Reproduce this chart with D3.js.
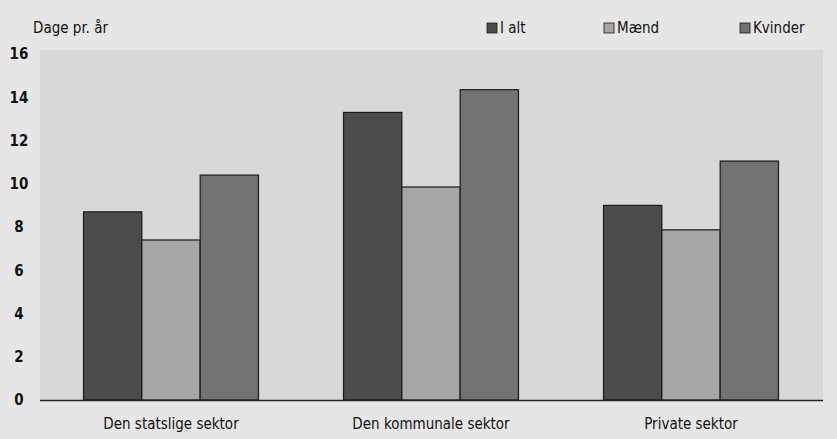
<!DOCTYPE html>
<html><head><meta charset="utf-8">
<script src="https://cdn.jsdelivr.net/npm/d3@7"></script>
<style>body{margin:0;background:#e4e4e4;}svg{display:block;}</style>
</head><body>
<svg id="c" width="837" height="439"></svg>
<script>
const categories = ["Den statslige sektor", "Den kommunale sektor", "Private sektor"];
const seriesNames = ["I alt", "Mænd", "Kvinder"];
const iAlt = [8.7, 13.3, 9.0];
const maend = [7.4, 9.85, 7.87];
const kvinder = [10.4, 14.35, 11.05];
const yTicks = [0, 2, 4, 6, 8, 10, 12, 14, 16];
const yLabel = "Dage pr. år";
const colors = ["#4c4c4c", "#a6a6a6", "#727272"];
const font = "'Liberation Sans Narrow','DejaVu Sans Condensed',sans-serif";

const svg = d3.select("#c");
svg.append("rect").attr("width",837).attr("height",439).attr("fill","#e6e6e6");
const y = d3.scaleLinear().domain([0,16]).range([400,54]);
const x0 = d3.scaleBand().domain(categories).range([41,821]).paddingInner(0.327).paddingOuter(0.1635);
const x1 = d3.scaleBand().domain(seriesNames).range([0,x0.bandwidth()]);

svg.append("rect").attr("x",40).attr("y",50).attr("width",783).attr("height",350).attr("fill","#d8d8d8");

const yAxis = d3.axisLeft(y).tickValues(yTicks).tickSize(0).tickPadding(0);
const ga = svg.append("g").attr("transform","translate(19,0)").call(yAxis);
ga.select(".domain").remove();
ga.selectAll("text").attr("font-family",font).attr("font-size",15).attr("fill","#111").attr("font-weight","bold").attr("text-anchor","middle");

const data = [iAlt, maend, kvinder];
const g = svg.append("g");
categories.forEach((c,i)=>{
  seriesNames.forEach((s,j)=>{
    g.append("rect")
      .attr("x", x0(c)+x1(s))
      .attr("y", y(data[j][i]))
      .attr("width", x1.bandwidth())
      .attr("height", y(0)-y(data[j][i]))
      .attr("fill", colors[j])
      .attr("stroke","#1a1a1a").attr("stroke-width",1.2);
  });
});

const xAxis = d3.axisBottom(x0).tickSize(0).tickPadding(18);
const gx = svg.append("g").attr("transform",`translate(0,${y(0)})`).call(xAxis);
gx.select(".domain").remove();
gx.selectAll("text").attr("font-family",font).attr("font-size",15).attr("fill","#111");
svg.append("line").attr("x1",40).attr("x2",823).attr("y1",y(0)+0.5).attr("y2",y(0)+0.5).attr("stroke","#222").attr("stroke-width",1.5);

svg.append("text").attr("x",33).attr("y",33).text(yLabel)
  .attr("font-family",font).attr("font-size",15).attr("fill","#111");

const legX = [487, 604, 740];
seriesNames.forEach((s,j)=>{
  svg.append("rect").attr("x",legX[j]).attr("y",23).attr("width",10).attr("height",10)
    .attr("fill",colors[j]).attr("stroke","#1a1a1a").attr("stroke-width",0.8);
  svg.append("text").attr("x",legX[j]+13).attr("y",33).text(s)
    .attr("font-family",font).attr("font-size",15).attr("fill","#111");
});
</script>
</body></html>
